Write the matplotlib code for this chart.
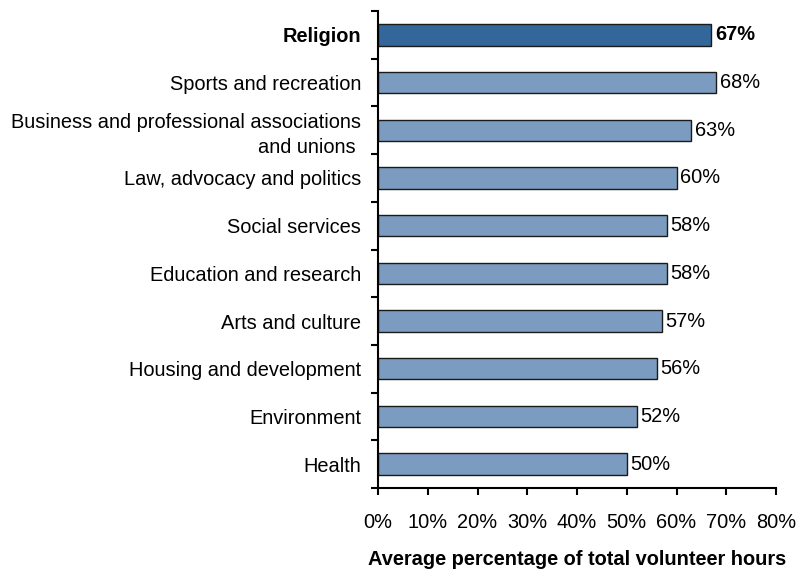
import matplotlib
matplotlib.use("Agg")
import matplotlib.pyplot as plt
import numpy as np

plt.rcParams['font.family'] = ['Liberation Sans', 'DejaVu Sans']

categories = [
    "Religion",
    "Sports and recreation",
    "Business and professional associations\nand unions ",
    "Law, advocacy and politics",
    "Social services",
    "Education and research",
    "Arts and culture",
    "Housing and development",
    "Environment",
    "Health",
]
values = [67, 68, 63, 60, 58, 58, 57, 56, 52, 50]
xticks = [0, 10, 20, 30, 40, 50, 60, 70, 80]

highlight = "Religion"
light = "#7b9cc0"
dark = "#336699"
fs = 14.4

fig = plt.figure(figsize=(7.97, 5.69), dpi=100)
ax = fig.add_axes([378/797, 1 - 488/569, (776 - 378)/797, (488 - 11)/569])

y = np.arange(len(categories))
colors = [dark if c == highlight else light for c in categories]
ax.barh(y, values, height=0.45, color=colors, edgecolor="#1a1a1a", linewidth=1.0)

for yi, v, c in zip(y, values, categories):
    ax.text(v + 0.8, yi, f"{v}%", va="center", ha="left", fontsize=fs,
            fontweight="bold" if c == highlight else "normal")

ax.set_ylim(len(categories) - 0.5, -0.5)
ax.set_xlim(0, 80)

ax.set_yticks(y)
ax.set_yticklabels(categories, fontsize=fs)
for lbl, c in zip(ax.get_yticklabels(), categories):
    lbl.set_linespacing(1.4)
    if c == highlight:
        lbl.set_fontweight("bold")
ax.set_yticks(np.arange(-0.5, len(categories)), minor=True)
ax.tick_params(axis="y", which="major", length=0, pad=12)
ax.tick_params(axis="y", which="minor", length=5, width=1.5, direction="out")

ax.set_xticks(xticks)
ax.set_xticklabels([f"{t}%" for t in xticks], fontsize=fs)
ax.tick_params(axis="x", length=5, width=1.5, direction="out", pad=13)

for s in ["top", "right"]:
    ax.spines[s].set_visible(False)
for s in ["left", "bottom"]:
    ax.spines[s].set_linewidth(1.5)

ax.set_xlabel("Average percentage of total volunteer hours", fontsize=fs,
              fontweight="bold", labelpad=13)

fig.savefig("out.png", dpi=100)
